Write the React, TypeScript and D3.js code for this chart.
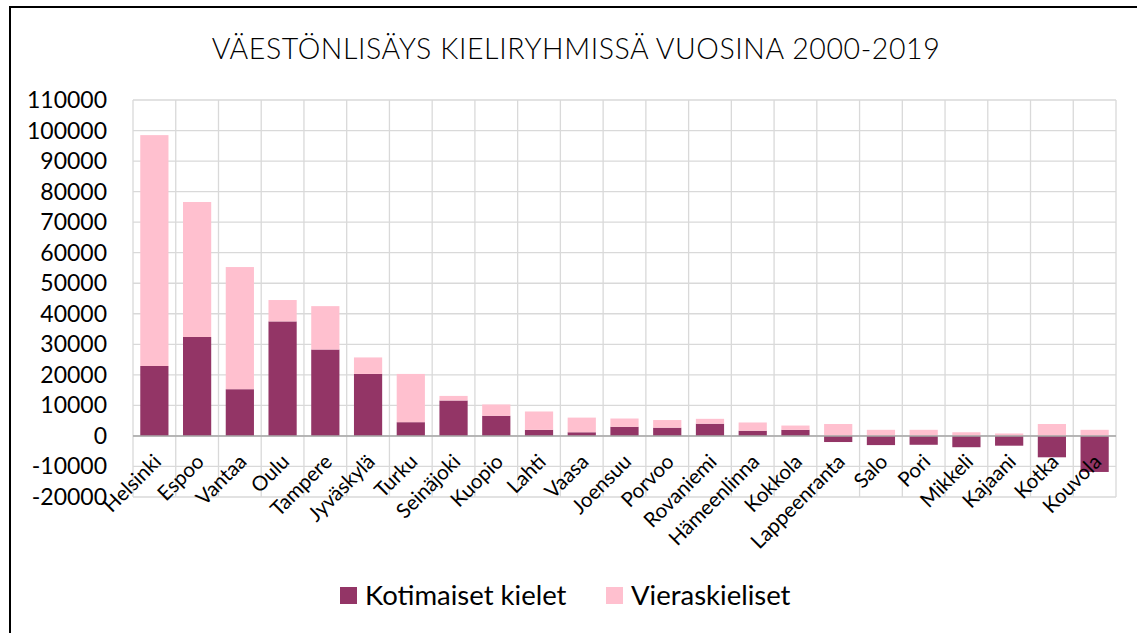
import React, { useEffect, useRef } from "react";
import * as d3 from "d3";

// cities, in the order of the original chart
const cities = [
  "Helsinki", "Espoo", "Vantaa", "Oulu", "Tampere", "Jyväskylä", "Turku",
  "Seinäjoki", "Kuopio", "Lahti", "Vaasa", "Joensuu", "Porvoo", "Rovaniemi",
  "Hämeenlinna", "Kokkola", "Lappeenranta", "Salo", "Pori", "Mikkeli",
  "Kajaani", "Kotka", "Kouvola",
];
// growth of people speaking the domestic languages
const kotimaiset = [
  22900, 32400, 15300, 37500, 28300, 20300, 4500, 11600, 6600, 2000, 1200,
  3000, 2700, 4000, 1700, 2000, -2000, -3000, -2900, -3700, -3200, -7000,
  -11800,
];
// growth of foreign language speakers
const vieraskieliset = [
  75600, 44200, 40000, 7000, 14200, 5400, 15800, 1500, 3700, 6000, 4800,
  2700, 2500, 1600, 2700, 1400, 3900, 2000, 2000, 1200, 800, 3900, 2000,
];
const yTicks = [-20000, -10000, 0, 10000, 20000, 30000, 40000, 50000, 60000,
  70000, 80000, 90000, 100000, 110000];
const seriesNames = ["Kotimaiset kielet", "Vieraskieliset"];
const colors = ["#933566", "#FFC0CF"];

const W = 1137;
const H = 633;
const FONT = "Lato, 'Open Sans', sans-serif";

export default function App() {
  const ref = useRef<SVGSVGElement>(null);

  useEffect(() => {
    const svg = d3.select(ref.current);
    svg.selectAll("*").remove();

    const margin = { top: 100, right: 21, bottom: 136, left: 133 };

    // frame: only top and left edges show
    svg.append("line").attr("x1", 10).attr("x2", W).attr("y1", 7).attr("y2", 7)
      .attr("stroke", "#000").attr("stroke-width", 2);
    svg.append("line").attr("x1", 10).attr("x2", 10).attr("y1", 6).attr("y2", H)
      .attr("stroke", "#000").attr("stroke-width", 2);

    svg.append("text")
      .attr("x", 576).attr("y", 59)
      .attr("text-anchor", "middle")
      .style("font-family", FONT)
      .style("font-weight", 300)
      .style("font-size", "28.5px")
      .style("letter-spacing", "0.6px")
      .text("VÄESTÖNLISÄYS KIELIRYHMISSÄ VUOSINA 2000-2019");

    const x = d3.scaleBand().domain(cities)
      .range([margin.left, W - margin.right]).paddingInner(0.34).paddingOuter(0.17);
    const y = d3.scaleLinear().domain([-20000, 110000])
      .range([H - margin.bottom, margin.top]);

    // grid
    const step = x.step();
    const gridX = d3.range(cities.length + 1).map((i) => margin.left + i * step);
    svg.append("g").selectAll("line").data(gridX).enter().append("line")
      .attr("x1", (d) => d).attr("x2", (d) => d)
      .attr("y1", y(110000)).attr("y2", y(-20000))
      .attr("stroke", "#D9D9D9").attr("stroke-width", 1.3);
    svg.append("g").selectAll("line").data(yTicks).enter().append("line")
      .attr("x1", margin.left).attr("x2", W - margin.right)
      .attr("y1", (d) => y(d)).attr("y2", (d) => y(d))
      .attr("stroke", "#D9D9D9").attr("stroke-width", 1.3);

    // y tick labels
    svg.append("g").selectAll("text").data(yTicks).enter().append("text")
      .attr("x", 107).attr("y", (d) => y(d) + 8)
      .attr("text-anchor", "end")
      .style("font-family", FONT).style("font-size", "23px")
      .text((d) => String(d));

    // stacked bars, negatives below zero
    const table = cities.map((c, i) => ({
      city: c, k: kotimaiset[i], v: vieraskieliset[i],
    }));
    const stack = d3.stack<any>().keys(["k", "v"]).offset(d3.stackOffsetDiverging);
    const layers = stack(table);
    layers.forEach((layer, li) => {
      svg.append("g").selectAll("rect").data(layer).enter().append("rect")
        .attr("x", (d: any) => x(d.data.city)!)
        .attr("width", x.bandwidth())
        .attr("y", (d) => y(Math.max(d[0], d[1])))
        .attr("height", (d) => Math.abs(y(d[0]) - y(d[1])))
        .attr("fill", colors[li]);
    });

    // zero axis line
    svg.append("line")
      .attr("x1", margin.left).attr("x2", W - margin.right)
      .attr("y1", y(0)).attr("y2", y(0))
      .attr("stroke", "#A6A6A6").attr("stroke-width", 1.5);

    // rotated category labels
    svg.append("g").selectAll("text").data(cities).enter().append("text")
      .attr("transform", (d) =>
        `translate(${x(d)! + x.bandwidth() / 2 + 3},${y(0) + 22}) rotate(-45)`)
      .attr("text-anchor", "end")
      .attr("dy", "0.35em")
      .style("font-family", FONT).style("font-size", "20.5px")
      .text((d) => d);

    // legend
    const legendX = [340, 606];
    seriesNames.forEach((name, i) => {
      svg.append("rect").attr("x", legendX[i]).attr("y", 587)
        .attr("width", 17).attr("height", 17).attr("fill", colors[i]);
      svg.append("text").attr("x", legendX[i] + 25).attr("y", 605)
        .style("font-family", FONT).style("font-size", "27.5px")
        .text(name);
    });
  }, []);

  return (
    <svg
      ref={ref}
      width={W}
      height={H}
      style={{ position: "absolute", left: 0, top: 0, background: "#fff" }}
    />
  );
}
